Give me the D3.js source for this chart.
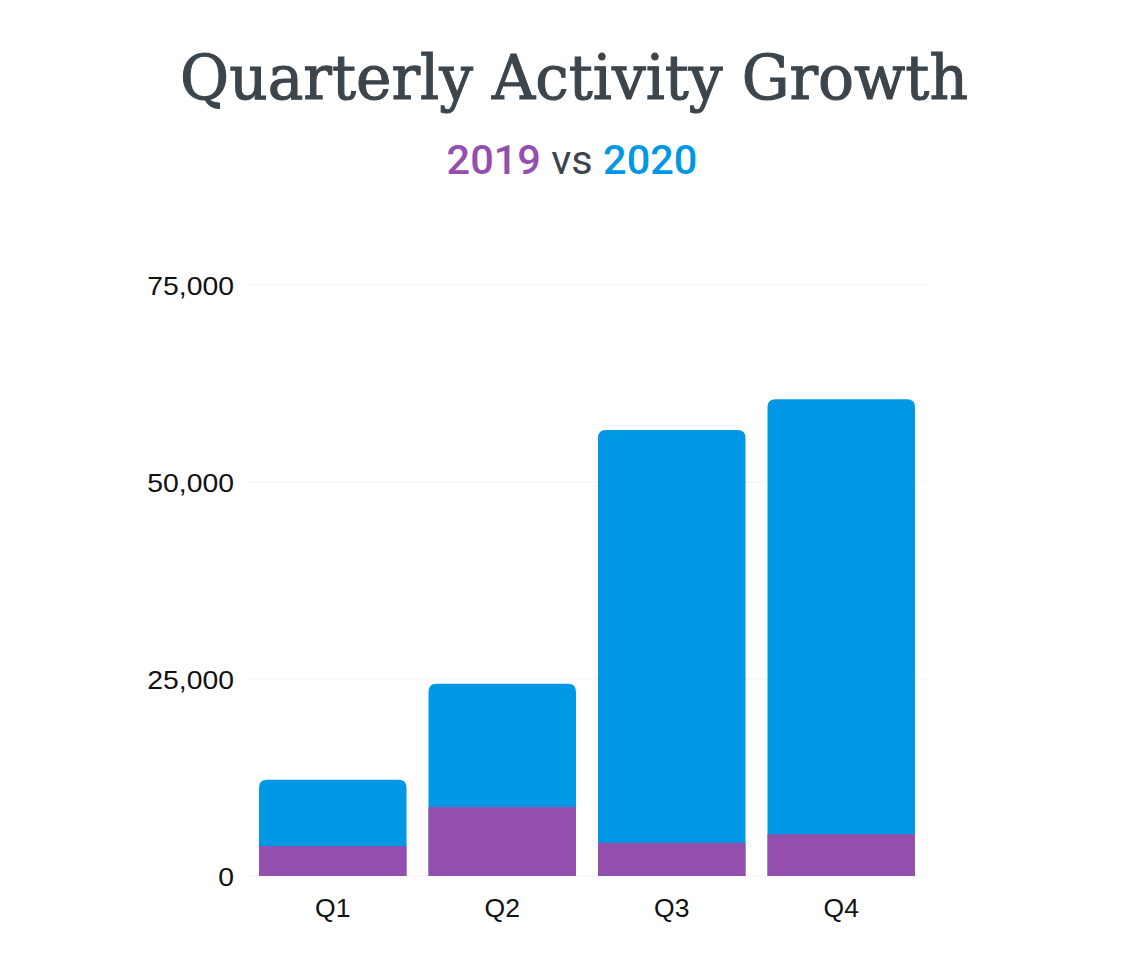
<!DOCTYPE html>
<html><head><meta charset="utf-8">
<script src="https://cdn.jsdelivr.net/npm/d3@7"></script>
<style>body{margin:0;background:#fff}svg{display:block}</style>
</head><body>
<script>
const quarters = ["Q1","Q2","Q3","Q4"];
const values2019 = [3800, 8750, 4200, 5300];
const values2020 = [12200, 24400, 56600, 60500];
const yTicks = [0, 25000, 50000, 75000];

const W = 1136, H = 976;
const svg = d3.select("body").append("svg").attr("width", W).attr("height", H);

const x = d3.scaleBand().domain(quarters).range([248, 926]).paddingInner(0.13).paddingOuter(0.065);
const y = d3.scaleLinear().domain([0, 75000]).range([876, 285]);

// grid
svg.append("g").selectAll("line").data(yTicks).join("line")
  .attr("x1", 248).attr("x2", 926)
  .attr("y1", d => y(d)).attr("y2", d => y(d))
  .attr("stroke", "#f3f3f3").attr("stroke-width", 1);

// axes
const yAxis = svg.append("g").attr("transform", "translate(234,0)")
  .call(d3.axisLeft(y).tickValues(yTicks).tickSize(0).tickPadding(0).tickFormat(d3.format(",")));
yAxis.select(".domain").remove();
yAxis.selectAll("text").attr("font-family", "Liberation Sans, Arial, sans-serif").attr("font-size", 26.5)
  .attr("fill", "#111").attr("dy", "0.36em").attr("transform", "scale(1.07,1)");

const xAxis = svg.append("g").attr("transform", "translate(0,876)")
  .call(d3.axisBottom(x).tickSize(0).tickPadding(22));
xAxis.select(".domain").remove();
xAxis.selectAll("text").attr("font-family", "Liberation Sans, Arial, sans-serif").attr("font-size", 26.5).attr("fill", "#111");

// 2020 bars (rounded top)
const r = 8;
function topRounded(x0, y0, w, h) {
  const rr = Math.min(r, h, w / 2);
  return `M${x0},${y0 + h}V${y0 + rr}Q${x0},${y0} ${x0 + rr},${y0}H${x0 + w - rr}Q${x0 + w},${y0} ${x0 + w},${y0 + rr}V${y0 + h}Z`;
}
svg.append("g").selectAll("path").data(quarters).join("path")
  .attr("d", (q, i) => topRounded(x(q), y(values2020[i]), x.bandwidth(), y(0) - y(values2020[i])))
  .attr("fill", "#0098e4");

// 2019 bars
svg.append("g").selectAll("rect").data(quarters).join("rect")
  .attr("x", q => x(q)).attr("width", x.bandwidth())
  .attr("y", (q, i) => y(values2019[i])).attr("height", (q, i) => y(0) - y(values2019[i]))
  .attr("fill", "#944fae");

// title
const titleG = svg.append("g").attr("transform", "translate(574,99)");
const title = titleG.append("text").attr("x", 0).attr("y", 0).attr("text-anchor", "middle")
  .attr("font-family", "DejaVu Serif, serif").attr("font-size", 62)
  .attr("fill", "#3c454c").attr("stroke", "#3c454c").attr("stroke-width", 1.1)
  .text("Quarterly Activity Growth");
const tw = title.node().getComputedTextLength();
title.attr("transform", `scale(${788 / tw},1)`);

// subtitle
const sub = svg.append("text").attr("x", 572).attr("y", 174).attr("text-anchor", "middle")
  .attr("font-family", "Roboto, sans-serif").attr("font-size", 41.5);
sub.append("tspan").attr("fill", "#944fae").attr("font-weight", 500).text("2019");
sub.append("tspan").attr("fill", "#3c454c").attr("font-weight", 400).text(" vs ");
sub.append("tspan").attr("fill", "#0098e4").attr("font-weight", 500).text("2020");
</script>
</body></html>
